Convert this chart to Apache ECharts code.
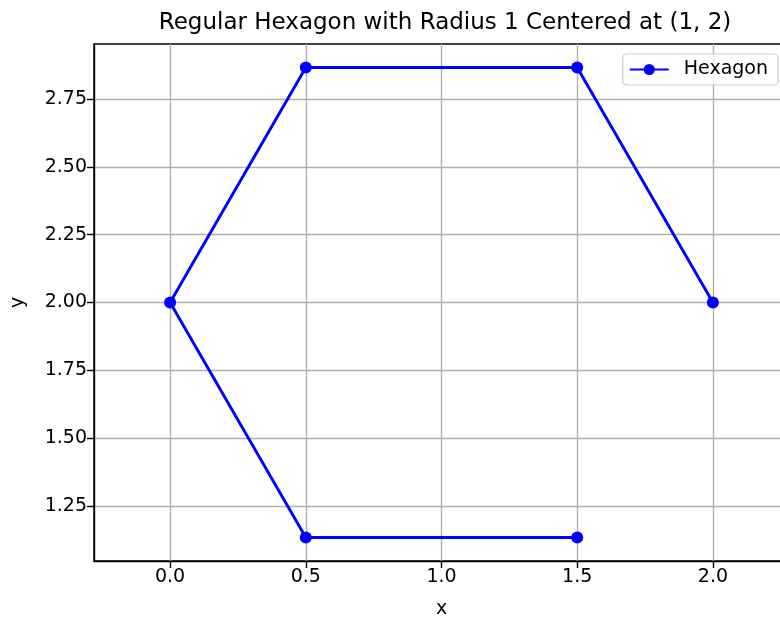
<!DOCTYPE html>
<html><head><meta charset="utf-8">
<script src="https://cdn.jsdelivr.net/npm/echarts@6/dist/echarts.min.js"></script>
<style>html,body{margin:0;padding:0;background:#fff}#c{width:780px;height:619px}</style>
</head><body><div id="c"></div>
<script>
const xs = [2.0, 1.5, 0.5, 0.0, 0.5, 1.5];
const ys = [2.0, 2.866, 2.866, 2.0, 1.134, 1.134];
const xTicks = [0.0, 0.5, 1.0, 1.5, 2.0];
const yTicks = [1.25, 1.5, 1.75, 2.0, 2.25, 2.5, 2.75];
const seriesName = 'Hexagon';
const titleText = 'Regular Hexagon with Radius 1 Centered at (1, 2)';

const font = 'DejaVu Sans';
const fs = 19;
const chart = echarts.init(document.getElementById('c'), null, {renderer: 'canvas'});
chart.setOption({
  animation: false,
  title: {text: titleText, left: 440, top: 7, textAlign: 'center',
    textStyle: {fontFamily: font, fontSize: 23, fontWeight: 'normal', color: '#000'}},
  grid: {left: 94, width: 695, top: 44, height: 517, outerBoundsMode: 'none', containLabel: false,
    show: true, borderColor: '#000', borderWidth: 1.4, backgroundColor: 'transparent'},
  legend: {right: 2, top: 54, data: [seriesName], itemWidth: 39, itemHeight: 14, itemGap: 10,
    padding: [6, 10, 6, 6], borderColor: '#cccccc', borderWidth: 1.2, borderRadius: 4, backgroundColor: 'rgba(255,255,255,0.8)',
    textStyle: {fontFamily: font, fontSize: fs, color: '#000', padding: [0, 0, 0, 10]}},
  xAxis: {type: 'value', min: -0.2804, max: 2.2804, name: 'x', nameLocation: 'middle', nameGap: 39,
    nameTextStyle: {fontFamily: font, fontSize: fs, color: '#000'},
    axisLine: {show: true, onZero: false, lineStyle: {color: '#000', width: 1.4}},
    axisTick: {show: true, length: 7, inside: false, customValues: xTicks, lineStyle: {color: '#000', width: 1.4}},
    axisLabel: {customValues: xTicks, fontFamily: font, fontSize: fs, color: '#000', margin: 7,
      formatter: v => v.toFixed(1)},
    splitLine: {show: true, customValues: xTicks, lineStyle: {color: '#b0b0b0', width: 1.4}}},
  yAxis: {type: 'value', min: 1.0474, max: 2.9526, name: 'y', nameLocation: 'middle', nameGap: 66,
    nameTextStyle: {fontFamily: font, fontSize: fs, color: '#000'},
    axisLine: {show: true, onZero: false, lineStyle: {color: '#000', width: 1.4}},
    axisTick: {show: true, length: 7, inside: false, customValues: yTicks, lineStyle: {color: '#000', width: 1.4}},
    axisLabel: {customValues: yTicks, fontFamily: font, fontSize: fs, color: '#000', margin: 7,
      formatter: v => v.toFixed(2)},
    splitLine: {show: true, customValues: yTicks, lineStyle: {color: '#b0b0b0', width: 1.4}}},
  series: [{name: seriesName, type: 'line', data: xs.map((x, i) => [x, ys[i]]),
    symbol: 'circle', symbolSize: 12, color: '#0000ff',
    lineStyle: {color: '#0000ff', width: 2.9}, itemStyle: {color: '#0000ff'}}]
});
</script></body></html>
